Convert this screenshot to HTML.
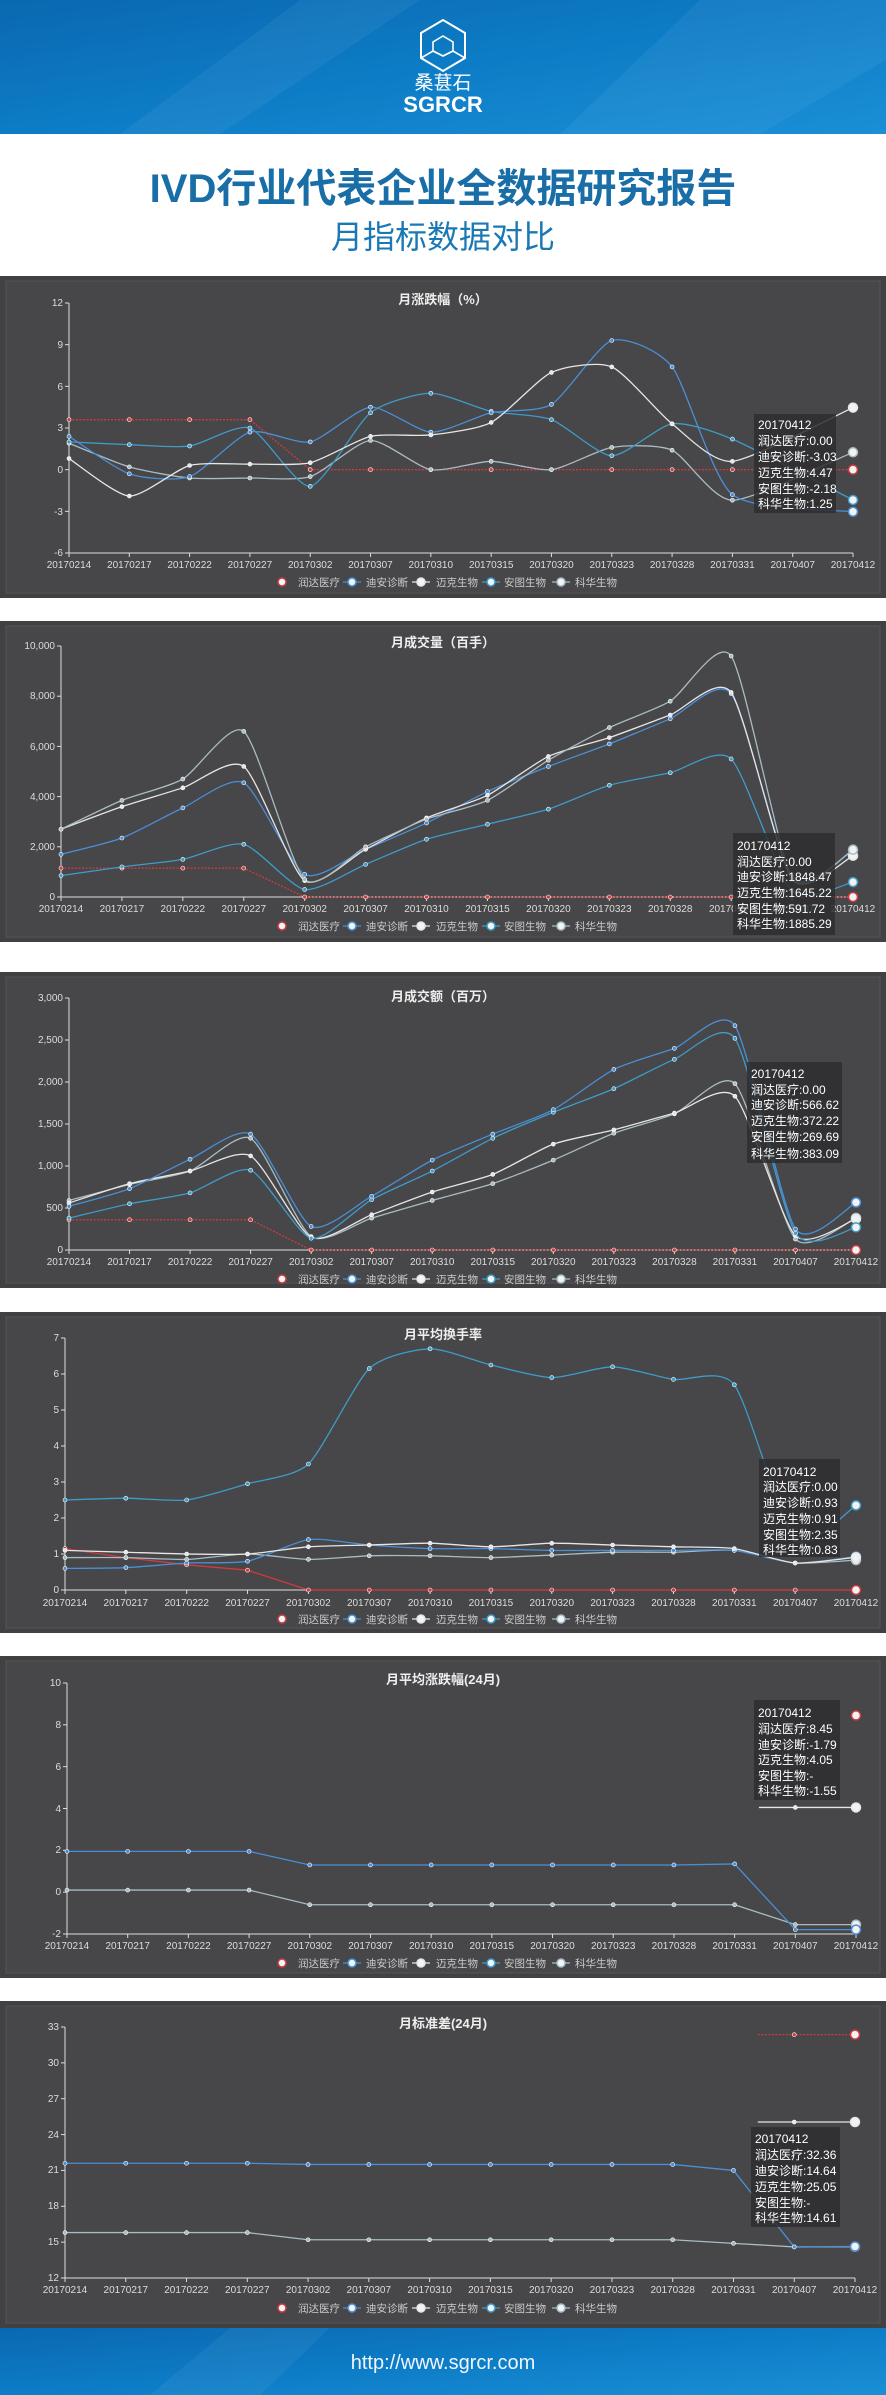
<!DOCTYPE html>
<html><head><meta charset="utf-8"><style>
body{margin:0;background:#fff}
svg{display:block}
text{font-family:"Liberation Sans","Noto Sans CJK SC",sans-serif}
.t{font-size:13px;font-weight:bold;fill:#eee;text-anchor:middle}
.xl{font-size:10px;fill:#ddd;text-anchor:middle}
.yl{font-size:10px;fill:#ddd;text-anchor:end}
.lg{font-size:10.5px;fill:#ccc}
.tt{font-size:12px;fill:#fff}
</style></head><body>
<svg id="s" width="886" height="2395" viewBox="0 0 886 2395" xmlns="http://www.w3.org/2000/svg">
<defs>
<linearGradient id="hb" x1="0" y1="0" x2="1" y2="1"><stop offset="0" stop-color="#0a68b0"/><stop offset="0.5" stop-color="#0d7cc6"/><stop offset="1" stop-color="#1a8fd6"/></linearGradient>
</defs>
<rect x="0" y="0" width="886" height="134" fill="url(#hb)"/>
<polygon points="120,134 300,0 420,0 220,134" fill="#fff" opacity="0.05"/>
<polygon points="560,134 700,0 886,0 886,60 760,134" fill="#fff" opacity="0.05"/>
<polygon points="443,20 465,33 465,58 443,71 421,58 421,33" fill="none" stroke="#fff" stroke-width="2"/>
<polyline points="421,58 433,51 443,56 453,51 465,58" fill="none" stroke="#fff" stroke-width="1.6"/>
<polygon points="443,36 453,42 453,51 443,56 433,51 433,42" fill="none" stroke="#fff" stroke-width="1.6"/>
<text x="443" y="89" font-size="19" fill="#fff" text-anchor="middle" style="font-family:'Noto Sans CJK SC',sans-serif">桑葚石</text>
<text x="443" y="112" font-size="22" font-weight="bold" fill="#fff" text-anchor="middle">SGRCR</text>
<text x="443" y="202" font-size="40" font-weight="bold" fill="#1a6ea8" text-anchor="middle" style="font-family:'Liberation Sans','Noto Sans CJK SC',sans-serif">IVD行业代表企业全数据研究报告</text>
<text x="443" y="248" font-size="32" fill="#1a78b4" text-anchor="middle" style="font-family:'Noto Sans CJK SC',sans-serif">月指标数据对比</text>

<g fill="#414042"><rect x="0" y="276" width="886" height="322"/><rect x="0" y="621" width="886" height="321"/><rect x="0" y="972" width="886" height="316"/><rect x="0" y="1312" width="886" height="321"/><rect x="0" y="1656" width="886" height="322"/><rect x="0" y="2001" width="886" height="327"/></g>
<g fill="#474648" stroke="#555457"><rect x="6" y="281" width="874" height="312"/><rect x="6" y="626" width="874" height="311"/><rect x="6" y="977" width="874" height="306"/><rect x="6" y="1317" width="874" height="311"/><rect x="6" y="1661" width="874" height="312"/><rect x="6" y="2006" width="874" height="317"/></g>

<rect x="0" y="2328" width="886" height="67" fill="url(#hb)"/>
<polygon points="150,2395 230,2328 330,2328 260,2395" fill="#fff" opacity="0.05"/>
<text x="443" y="2369" font-size="20" fill="#eef6ff" text-anchor="middle">http://www.sgrcr.com</text>

<g id="plots"></g>

<text class="t" x="443" y="304">月涨跌幅（%）</text>
<text class="t" x="443" y="647">月成交量（百手）</text>
<text class="t" x="443" y="1001">月成交额（百万）</text>
<text class="t" x="443" y="1339">月平均换手率</text>
<text class="t" x="443" y="1684">月平均涨跌幅(24月)</text>
<text class="t" x="443" y="2028">月标准差(24月)</text>

<g class="yl">
<text x="63" y="306">12</text><text x="63" y="348">9</text><text x="63" y="390">6</text><text x="63" y="431">3</text><text x="63" y="473">0</text><text x="63" y="515">-3</text><text x="63" y="556">-6</text>
<text x="55" y="649">10,000</text><text x="55" y="699">8,000</text><text x="55" y="750">6,000</text><text x="55" y="800">4,000</text><text x="55" y="850">2,000</text><text x="55" y="900">0</text>
<text x="63" y="1001">3,000</text><text x="63" y="1043">2,500</text><text x="63" y="1085">2,000</text><text x="63" y="1127">1,500</text><text x="63" y="1169">1,000</text><text x="63" y="1211">500</text><text x="63" y="1253">0</text>
<text x="59" y="1341">7</text><text x="59" y="1377">6</text><text x="59" y="1413">5</text><text x="59" y="1449">4</text><text x="59" y="1485">3</text><text x="59" y="1521">2</text><text x="59" y="1557">1</text><text x="59" y="1593">0</text>
<text x="61" y="1686">10</text><text x="61" y="1728">8</text><text x="61" y="1770">6</text><text x="61" y="1812">4</text><text x="61" y="1853">2</text><text x="61" y="1895">0</text><text x="61" y="1937">-2</text>
<text x="59" y="2030">33</text><text x="59" y="2066">30</text><text x="59" y="2102">27</text><text x="59" y="2138">24</text><text x="59" y="2173">21</text><text x="59" y="2209">18</text><text x="59" y="2245">15</text><text x="59" y="2281">12</text>
</g>

<g class="xl" transform="translate(69,568)"><text x="0">20170214</text><text x="60.3">20170217</text><text x="120.6">20170222</text><text x="180.9">20170227</text><text x="241.2">20170302</text><text x="301.5">20170307</text><text x="361.8">20170310</text><text x="422.2">20170315</text><text x="482.5">20170320</text><text x="542.8">20170323</text><text x="603.1">20170328</text><text x="663.4">20170331</text><text x="723.7">20170407</text><text x="784">20170412</text></g>
<g class="xl" transform="translate(61,912)"><text x="0">20170214</text><text x="60.9">20170217</text><text x="121.8">20170222</text><text x="182.8">20170227</text><text x="243.7">20170302</text><text x="304.6">20170307</text><text x="365.5">20170310</text><text x="426.5">20170315</text><text x="487.4">20170320</text><text x="548.3">20170323</text><text x="609.2">20170328</text><text x="670.2">20170331</text><text x="731.1">20170407</text><text x="792">20170412</text></g>
<g class="xl" transform="translate(69,1265)"><text x="0">20170214</text><text x="60.5">20170217</text><text x="121.1">20170222</text><text x="181.6">20170227</text><text x="242.2">20170302</text><text x="302.7">20170307</text><text x="363.2">20170310</text><text x="423.8">20170315</text><text x="484.3">20170320</text><text x="544.8">20170323</text><text x="605.4">20170328</text><text x="665.9">20170331</text><text x="726.5">20170407</text><text x="787">20170412</text></g>
<g class="xl" transform="translate(65,1606)"><text x="0">20170214</text><text x="60.8">20170217</text><text x="121.7">20170222</text><text x="182.5">20170227</text><text x="243.4">20170302</text><text x="304.2">20170307</text><text x="365.1">20170310</text><text x="425.9">20170315</text><text x="486.8">20170320</text><text x="547.6">20170323</text><text x="608.5">20170328</text><text x="669.3">20170331</text><text x="730.2">20170407</text><text x="791">20170412</text></g>
<g class="xl" transform="translate(67,1949)"><text x="0">20170214</text><text x="60.7">20170217</text><text x="121.4">20170222</text><text x="182.1">20170227</text><text x="242.8">20170302</text><text x="303.5">20170307</text><text x="364.2">20170310</text><text x="424.8">20170315</text><text x="485.5">20170320</text><text x="546.2">20170323</text><text x="606.9">20170328</text><text x="667.6">20170331</text><text x="728.3">20170407</text><text x="789">20170412</text></g>
<g class="xl" transform="translate(65,2293)"><text x="0">20170214</text><text x="60.8">20170217</text><text x="121.5">20170222</text><text x="182.3">20170227</text><text x="243.1">20170302</text><text x="303.8">20170307</text><text x="364.6">20170310</text><text x="425.4">20170315</text><text x="486.2">20170320</text><text x="546.9">20170323</text><text x="607.7">20170328</text><text x="668.5">20170331</text><text x="729.2">20170407</text><text x="790">20170412</text></g>

<g class="lg">
<g transform="translate(0,586)"><text x="298">润达医疗</text><text x="366">迪安诊断</text><text x="436">迈克生物</text><text x="504">安图生物</text><text x="575">科华生物</text></g>
<g transform="translate(0,930)"><text x="298">润达医疗</text><text x="366">迪安诊断</text><text x="436">迈克生物</text><text x="504">安图生物</text><text x="575">科华生物</text></g>
<g transform="translate(0,1283)"><text x="298">润达医疗</text><text x="366">迪安诊断</text><text x="436">迈克生物</text><text x="504">安图生物</text><text x="575">科华生物</text></g>
<g transform="translate(0,1623)"><text x="298">润达医疗</text><text x="366">迪安诊断</text><text x="436">迈克生物</text><text x="504">安图生物</text><text x="575">科华生物</text></g>
<g transform="translate(0,1967)"><text x="298">润达医疗</text><text x="366">迪安诊断</text><text x="436">迈克生物</text><text x="504">安图生物</text><text x="575">科华生物</text></g>
<g transform="translate(0,2312)"><text x="298">润达医疗</text><text x="366">迪安诊断</text><text x="436">迈克生物</text><text x="504">安图生物</text><text x="575">科华生物</text></g>
</g>

<g>
<rect x="754" y="414" width="82" height="99" fill="#2e2e30" opacity="0.85"/>
<g class="tt"><text x="758" y="429">20170412</text><text x="758" y="445">润达医疗:0.00</text><text x="758" y="461">迪安诊断:-3.03</text><text x="758" y="477">迈克生物:4.47</text><text x="758" y="493">安图生物:-2.18</text><text x="758" y="508">科华生物:1.25</text></g>
<rect x="733" y="833" width="102" height="102" fill="#2e2e30" opacity="0.85"/>
<g class="tt"><text x="737" y="850">20170412</text><text x="737" y="866">润达医疗:0.00</text><text x="737" y="881">迪安诊断:1848.47</text><text x="737" y="897">迈克生物:1645.22</text><text x="737" y="913">安图生物:591.72</text><text x="737" y="928">科华生物:1885.29</text></g>
<rect x="747" y="1062" width="95" height="101" fill="#2e2e30" opacity="0.85"/>
<g class="tt"><text x="751" y="1078">20170412</text><text x="751" y="1094">润达医疗:0.00</text><text x="751" y="1109">迪安诊断:566.62</text><text x="751" y="1125">迈克生物:372.22</text><text x="751" y="1141">安图生物:269.69</text><text x="751" y="1158">科华生物:383.09</text></g>
<rect x="759" y="1459" width="81" height="98" fill="#2e2e30" opacity="0.85"/>
<g class="tt"><text x="763" y="1476">20170412</text><text x="763" y="1491">润达医疗:0.00</text><text x="763" y="1507">迪安诊断:0.93</text><text x="763" y="1523">迈克生物:0.91</text><text x="763" y="1539">安图生物:2.35</text><text x="763" y="1554">科华生物:0.83</text></g>
<rect x="754" y="1700" width="86" height="100" fill="#2e2e30" opacity="0.85"/>
<g class="tt"><text x="758" y="1717">20170412</text><text x="758" y="1733">润达医疗:8.45</text><text x="758" y="1749">迪安诊断:-1.79</text><text x="758" y="1764">迈克生物:4.05</text><text x="758" y="1780">安图生物:-</text><text x="758" y="1795">科华生物:-1.55</text></g>
<rect x="751" y="2127" width="89" height="100" fill="#2e2e30" opacity="0.85"/>
<g class="tt"><text x="755" y="2143">20170412</text><text x="755" y="2159">润达医疗:32.36</text><text x="755" y="2175">迪安诊断:14.64</text><text x="755" y="2191">迈克生物:25.05</text><text x="755" y="2207">安图生物:-</text><text x="755" y="2222">科华生物:14.61</text></g>
</g>
</svg>
<script>
var R='#cf3b3f',D='#4a8fd6',M='#e6e6e6',A='#3f9bc8',K='#a9bcc4';
var N=null;
var charts=[
{x0:69,x1:853,yt:303,yb:553,lo:-6,hi:12,nt:6,lg:582,s:[
 {c:R,lin:1,dash:1,d:[3.6,3.6,3.6,3.6,0,0,0,0,0,0,0,0,N,0]},
 {c:K,d:[1.9,0.2,-0.6,-0.6,-0.5,2.1,0.0,0.6,0.0,1.6,1.4,-2.2,N,1.25]},
 {c:A,d:[2.0,1.8,1.7,3.0,-1.2,4.1,5.5,4.2,3.6,1.0,3.3,2.2,N,-2.18]},
 {c:D,d:[2.4,-0.3,-0.5,2.7,2.0,4.5,2.7,4.1,4.7,9.3,7.4,-1.8,N,-3.03]},
 {c:M,d:[0.8,-1.9,0.3,0.4,0.5,2.4,2.5,3.4,7.0,7.4,3.3,0.6,N,4.47]}]},
{x0:61,x1:853,yt:646,yb:897,lo:0,hi:10000,nt:5,lg:926,s:[
 {c:R,lin:1,dash:1,d:[1150,1150,1150,1150,0,0,0,0,0,0,0,0,N,0]},
 {c:A,d:[850,1200,1500,2100,300,1300,2300,2900,3500,4450,4950,5500,250,592]},
 {c:D,d:[1700,2350,3550,4550,900,1900,2950,4200,5200,6100,7100,8100,800,1848]},
 {c:M,d:[2700,3600,4350,5200,650,1900,3150,4050,5600,6350,7250,8150,700,1645]},
 {c:K,d:[2700,3850,4700,6600,700,2000,3100,3850,5450,6750,7800,9600,800,1885]}]},
{x0:69,x1:856,yt:998,yb:1250,lo:0,hi:3000,nt:6,lg:1279,s:[
 {c:R,lin:1,dash:1,d:[360,360,360,360,0,0,0,0,0,0,0,0,0,0]},
 {c:K,d:[590,780,940,1330,160,380,590,790,1070,1390,1620,1980,130,383]},
 {c:M,d:[560,790,940,1120,150,420,690,900,1260,1430,1630,1830,170,372]},
 {c:A,d:[380,550,680,950,140,600,940,1330,1640,1920,2270,2520,200,270]},
 {c:D,d:[520,730,1080,1380,280,640,1070,1380,1670,2150,2400,2670,250,567]}]},
{x0:65,x1:856,yt:1338,yb:1590,lo:0,hi:7,nt:7,lg:1619,s:[
 {c:R,lin:1,d:[1.15,0.9,0.7,0.55,0,0,0,0,0,0,0,0,0,0]},
 {c:K,d:[0.9,0.9,0.85,1.0,0.85,0.95,0.95,0.9,0.97,1.05,1.05,1.1,0.75,0.83]},
 {c:D,d:[0.6,0.62,0.75,0.8,1.4,1.25,1.15,1.15,1.1,1.1,1.1,1.1,0.75,0.93]},
 {c:M,d:[1.1,1.05,1.0,1.0,1.2,1.25,1.3,1.2,1.3,1.25,1.2,1.15,0.75,0.91]},
 {c:A,d:[2.5,2.55,2.5,2.95,3.5,6.15,6.7,6.25,5.9,6.2,5.85,5.7,1.4,2.35]}]},
{x0:67,x1:856,yt:1683,yb:1934,lo:-2,hi:10,nt:6,lg:1963,s:[
 {c:R,d:[N,N,N,N,N,N,N,N,N,N,N,N,N,8.45]},
 {c:M,ext:1,lin:1,d:[N,N,N,N,N,N,N,N,N,N,N,N,4.05,4.05]},
 {c:K,lin:1,d:[0.1,0.1,0.1,0.1,-0.6,-0.6,-0.6,-0.6,-0.6,-0.6,-0.6,-0.6,-1.55,-1.55]},
 {c:D,lin:1,d:[1.95,1.95,1.95,1.95,1.3,1.3,1.3,1.3,1.3,1.3,1.3,1.35,-1.79,-1.79]}]},
{x0:65,x1:855,yt:2027,yb:2278,lo:12,hi:33,nt:7,lg:2308,s:[
 {c:R,ext:1,lin:1,dash:1,d:[N,N,N,N,N,N,N,N,N,N,N,N,32.36,32.36]},
 {c:M,ext:1,lin:1,d:[N,N,N,N,N,N,N,N,N,N,N,N,25.05,25.05]},
 {c:K,lin:1,d:[15.8,15.8,15.8,15.8,15.2,15.2,15.2,15.2,15.2,15.2,15.2,14.9,14.6,14.61]},
 {c:D,lin:1,d:[21.6,21.6,21.6,21.6,21.5,21.5,21.5,21.5,21.5,21.5,21.5,21.0,14.6,14.64]}]}
];
var out='';
charts.forEach(function(c){
 var sx=(c.x1-c.x0)/13;
 function Y(v){return c.yb-(v-c.lo)/(c.hi-c.lo)*(c.yb-c.yt);}
 out+='<line x1="'+c.x0+'" y1="'+c.yt+'" x2="'+c.x0+'" y2="'+c.yb+'" stroke="#ddd" stroke-width="1"/>';
 out+='<line x1="'+c.x0+'" y1="'+c.yb+'" x2="'+c.x1+'" y2="'+c.yb+'" stroke="#ddd" stroke-width="1"/>';
 for(var i=0;i<14;i++){var x=c.x0+i*sx;out+='<line x1="'+x+'" y1="'+c.yb+'" x2="'+x+'" y2="'+(c.yb+4)+'" stroke="#ddd"/>';}
 for(var j=0;j<=c.nt;j++){var y=c.yt+j*(c.yb-c.yt)/c.nt;out+='<line x1="'+(c.x0-4)+'" y1="'+y+'" x2="'+c.x0+'" y2="'+y+'" stroke="#ddd"/>';}
 c.s.forEach(function(s){
  var p=[];s.d.forEach(function(v,i){if(v!==null)p.push([c.x0+i*sx,Y(v)]);});
  if(s.ext)p.unshift([p[0][0]-0.6*sx,p[0][1]]);
  if(p.length>1){
   var d='M'+p[0][0]+','+p[0][1];
   var T=9;
   for(var i=0;i<p.length-1;i++){
    if(s.lin){d+=' L'+p[i+1][0]+','+p[i+1][1];continue;}
    var a=p[i-1]||p[i],b=p[i],e=p[i+1],f=p[i+2]||e;
    d+=' C'+(b[0]+(e[0]-a[0])/T)+','+(b[1]+(e[1]-a[1])/T)+' '+(e[0]-(f[0]-b[0])/T)+','+(e[1]-(f[1]-b[1])/T)+' '+e[0]+','+e[1];
   }
   out+='<path d="'+d+'" fill="none" stroke="'+s.c+'" stroke-width="1.3"'+(s.dash?' stroke-dasharray="2,1.5"':'')+'/>';
  }
  p.forEach(function(q,k){
   if(s.ext&&k==0)return;
   var last=k==p.length-1;
   out+='<circle cx="'+q[0]+'" cy="'+q[1]+'" r="'+(last?4.5:2)+'" fill="'+(last?'#f2f2f2':s.c)+'" stroke="'+(last?s.c:'#fff')+'" stroke-width="'+(last?1.5:0.6)+'"/>';
  });
 });
 var lx=[[282,R,0],[352,D,1],[421,M,1],[491,A,1],[561,K,1]];
 lx.forEach(function(l){
  if(l[2])out+='<line x1="'+(l[0]-9)+'" y1="'+c.lg+'" x2="'+(l[0]+9)+'" y2="'+c.lg+'" stroke="'+l[1]+'" stroke-width="1.3"/>';
  out+='<circle cx="'+l[0]+'" cy="'+c.lg+'" r="4" fill="#eef6fa" stroke="'+l[1]+'" stroke-width="1.5"/>';
 });
});
document.getElementById('plots').innerHTML=out;
</script>
</body></html>
